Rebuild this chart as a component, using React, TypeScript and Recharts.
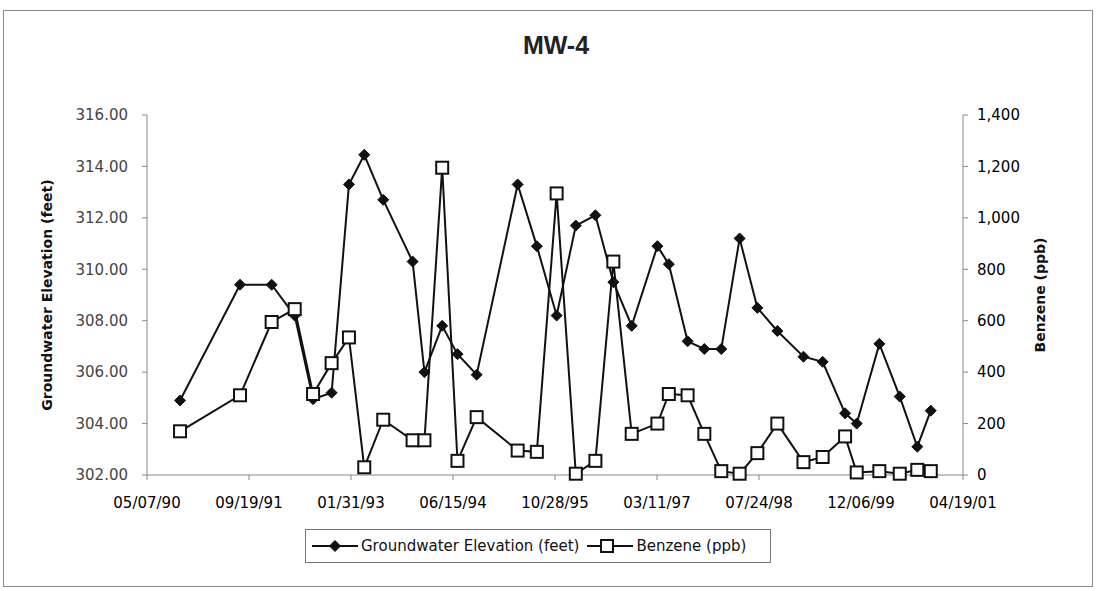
import React from "react";
import {
  LineChart,
  Line,
  XAxis,
  YAxis,
  Legend,
} from "recharts";

// sampling events (MW-4)
const sampleDates = [
  "1990-10-16", "1991-08-06", "1992-01-08", "1992-04-30", "1992-07-29",
  "1992-10-28", "1993-01-21", "1993-04-06", "1993-07-08", "1993-11-29",
  "1994-01-26", "1994-04-23", "1994-07-07", "1994-10-09", "1995-04-28",
  "1995-07-31", "1995-11-05", "1996-02-07", "1996-05-13", "1996-08-09",
  "1996-11-07", "1997-03-13", "1997-05-08", "1997-08-08", "1997-10-29",
  "1998-01-20", "1998-04-20", "1998-07-16", "1998-10-22", "1999-02-27",
  "1999-06-01", "1999-09-19", "1999-11-15", "2000-03-05", "2000-06-13",
  "2000-09-07", "2000-11-12",
];

const elevation = [
  304.9, 309.4, 309.4, 308.2, 304.95, 305.2, 313.3, 314.45, 312.7, 310.3,
  306.0, 307.8, 306.7, 305.9, 313.3, 310.9, 308.2, 311.7, 312.1, 309.5,
  307.8, 310.9, 310.2, 307.2, 306.9, 306.9, 311.2, 308.5, 307.6, 306.6,
  306.4, 304.4, 304.0, 307.1, 305.05, 303.1, 304.5,
];

const benzene = [
  170, 310, 595, 645, 315, 435, 535, 30, 215, 135,
  135, 1195, 55, 225, 95, 90, 1095, 5, 55, 830,
  160, 200, 315, 310, 160, 15, 5, 85, 200, 50,
  70, 150, 10, 15, 5, 20, 15,
];

const xTickDates = [
  "1990-05-07", "1991-09-19", "1993-01-31", "1994-06-15", "1995-10-28",
  "1997-03-11", "1998-07-24", "1999-12-06", "2001-04-19",
];
const elevTicks = [302, 304, 306, 308, 310, 312, 314, 316];
const benzTicks = [0, 200, 400, 600, 800, 1000, 1200, 1400];

const toMs = (s: string) => {
  const [y, m, d] = s.split("-").map(Number);
  return Date.UTC(y, m - 1, d);
};

const data = sampleDates.map((d, i) => ({
  t: toMs(d),
  elevation: elevation[i],
  benzene: benzene[i],
}));
const xTicks = xTickDates.map(toMs);

const pad = (n: number) => String(n).padStart(2, "0");
const fmtDate = (v: number) => {
  const d = new Date(v);
  return `${pad(d.getUTCMonth() + 1)}/${pad(d.getUTCDate())}/${pad(d.getUTCFullYear() % 100)}`;
};

const FONT = "'DejaVu Sans', 'Liberation Sans', Arial, sans-serif";

const Diamond = (p: any) => {
  const { cx, cy } = p;
  if (cx == null || cy == null) return null;
  const r = 5.5;
  return (
    <path
      d={`M${cx},${cy - r} L${cx + r},${cy} L${cx},${cy + r} L${cx - r},${cy} Z`}
      fill="#111"
      stroke="#111"
      strokeWidth={1}
    />
  );
};

const Square = (p: any) => {
  const { cx, cy } = p;
  if (cx == null || cy == null) return null;
  const s = 12;
  return (
    <rect
      x={cx - s / 2}
      y={cy - s / 2}
      width={s}
      height={s}
      fill="#fff"
      stroke="#111"
      strokeWidth={2}
    />
  );
};

const LegendBox = () => (
  <div
    style={{
      boxSizing: "border-box",
      height: 34,
      width: 466,
      border: "1.5px solid #777",
      display: "flex",
      alignItems: "center",
      paddingLeft: 6,
      fontFamily: FONT,
      fontSize: 15,
      color: "#111",
      background: "#fff",
      whiteSpace: "nowrap",
      overflow: "hidden",
    }}
  >
    <svg width={46} height={14} style={{ flex: "none" }}>
      <line x1={0} y1={7} x2={46} y2={7} stroke="#111" strokeWidth={2} />
      <Diamond cx={23} cy={7} />
    </svg>
    <span style={{ marginLeft: 3 }}>Groundwater Elevation (feet)</span>
    <svg width={46} height={16} style={{ marginLeft: 8, flex: "none" }}>
      <line x1={0} y1={8} x2={46} y2={8} stroke="#111" strokeWidth={2} />
      <Square cx={20} cy={8} />
    </svg>
    <span style={{ marginLeft: 3 }}>Benzene (ppb)</span>
  </div>
);

export default function App() {
  return (
    <div style={{ position: "absolute", left: 0, top: 0, width: 1099, height: 591, background: "#fff" }}>
      <div
        style={{
          position: "absolute",
          left: 3,
          top: 10,
          width: 1090,
          height: 577,
          border: "1.5px solid #888",
          boxSizing: "border-box",
        }}
      />
      <div
        style={{
          position: "absolute",
          left: 0,
          top: 31,
          width: 1112,
          textAlign: "center",
          fontFamily: "'Liberation Sans Narrow', 'Arial Narrow', 'Liberation Sans', sans-serif",
          fontWeight: 700,
          fontSize: 25,
          color: "#222",
        }}
      >
        MW-4
      </div>
      <div style={{ position: "absolute", left: 0, top: 0 }}>
        <LineChart
          width={1099}
          height={591}
          data={data}
          margin={{ top: 115, right: 56, left: 67, bottom: 52 }}
        >
          <XAxis
            dataKey="t"
            type="number"
            scale="time"
            domain={[xTicks[0], xTicks[xTicks.length - 1]]}
            ticks={xTicks}
            tickFormatter={fmtDate}
            height={30}
            stroke="#888"
            tickSize={5}
            tickMargin={17}
            tick={{ fill: "#000", fontSize: 15, fontFamily: FONT }}
            interval={0}
          />
          <YAxis
            yAxisId="left"
            domain={[302, 316]}
            ticks={elevTicks}
            tickFormatter={(v: number) => v.toFixed(2)}
            width={80}
            stroke="#888"
            tickSize={5}
            tickMargin={14}
            tick={{ fill: "#444", fontSize: 15, fontFamily: FONT }}
            interval={0}
            label={{
              content: (props: any) => {
                const vb = props.viewBox;
                const x = vb.x - 20;
                const y = vb.y + vb.height / 2;
                return (
                  <text
                    x={x}
                    y={y}
                    transform={`rotate(-90, ${x}, ${y})`}
                    textAnchor="middle"
                    dominantBaseline="central"
                    fontFamily={FONT}
                    fontWeight={700}
                    fontSize={14}
                    fill="#111"
                  >
                    Groundwater Elevation (feet)
                  </text>
                );
              },
            }}
          />
          <YAxis
            yAxisId="right"
            orientation="right"
            domain={[0, 1400]}
            ticks={benzTicks}
            tickFormatter={(v: number) => v.toLocaleString("en-US")}
            width={80}
            stroke="#888"
            tickSize={5}
            tickMargin={9}
            tick={{ fill: "#000", fontSize: 15, fontFamily: FONT }}
            interval={0}
            label={{
              content: (props: any) => {
                const vb = props.viewBox;
                const x = vb.x + 77;
                const y = vb.y + vb.height / 2;
                return (
                  <text
                    x={x}
                    y={y}
                    transform={`rotate(-90, ${x}, ${y})`}
                    textAnchor="middle"
                    dominantBaseline="central"
                    fontFamily={FONT}
                    fontWeight={700}
                    fontSize={14}
                    fill="#111"
                  >
                    Benzene (ppb)
                  </text>
                );
              },
            }}
          />
          <Legend
            verticalAlign="bottom"
            content={() => <LegendBox />}
            wrapperStyle={{ left: 305, bottom: 28, width: 466 }}
          />
          <Line
            yAxisId="left"
            dataKey="elevation"
            name="Groundwater Elevation (feet)"
            stroke="#111"
            strokeWidth={2}
            type="linear"
            dot={(p: any) => <Diamond key={`e-${p.index}`} {...p} />}
            activeDot={false}
            isAnimationActive={false}
          />
          <Line
            yAxisId="right"
            dataKey="benzene"
            name="Benzene (ppb)"
            stroke="#111"
            strokeWidth={2}
            type="linear"
            dot={(p: any) => <Square key={`b-${p.index}`} {...p} />}
            activeDot={false}
            isAnimationActive={false}
          />
        </LineChart>
      </div>
    </div>
  );
}
